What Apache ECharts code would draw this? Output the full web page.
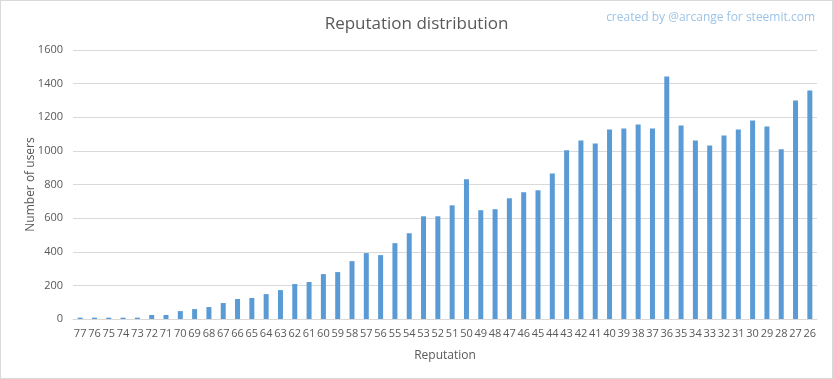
<!DOCTYPE html>
<html>
<head>
<meta charset="utf-8">
<script src="https://cdn.jsdelivr.net/npm/echarts@6/dist/echarts.min.js"></script>
<style>
html,body{margin:0;padding:0;background:#fff;}
#c{width:833px;height:379px;box-sizing:border-box;border:1px solid #D9D9D9;}
</style>
</head>
<body>
<div id="c"></div>
<script>
const categories = ['77','76','75','74','73','72','71','70','69','68','67','66','65','64','63','62','61','60','59','58','57','56','55','54','53','52','51','50','49','48','47','46','45','44','43','42','41','40','39','38','37','36','35','34','33','32','31','30','29','28','27','26'];
const users = [8,8,8,8,8,24,24,47,59,71,95,119,125,148,172,208,220,267,279,344,392,380,451,510,611,611,676,831,647,653,718,754,766,866,1003,1062,1044,1127,1133,1157,1133,1442,1151,1062,1032,1092,1127,1181,1145,1009,1300,1359];
const yTicks = {min:0, max:1600, interval:200};

const chart = echarts.init(document.getElementById('c'), null, {renderer:'canvas'});
const font = '"Open Sans", sans-serif';
chart.setOption({
  animation:false,
  backgroundColor:'#fff',
  title:[{
    text:'Reputation distribution',
    left:'center', top:10,
    textStyle:{fontFamily:font, fontWeight:'normal', fontSize:17, color:'#595959'}
  },{
    text:'created by @arcange for steemit.com',
    right:12, top:6,
    textStyle:{fontFamily:font, fontWeight:'normal', fontSize:12, color:'#9DC3E6'}
  }],
  grid:{left:72, right:15, top:49, bottom:59, containLabel:false},
  xAxis:{
    type:'category', data:categories,
    name:'Reputation', nameLocation:'middle', nameGap:31, nameMoveOverlap:false,
    nameTextStyle:{fontFamily:font, fontSize:12, color:'#595959'},
    axisLine:{lineStyle:{color:'#D9D9D9'}},
    axisTick:{alignWithLabel:false, length:5, lineStyle:{color:'#D9D9D9'}},
    axisLabel:{interval:0, fontFamily:font, fontSize:11, color:'#595959', margin:9}
  },
  yAxis:{
    type:'value', min:yTicks.min, max:yTicks.max, interval:yTicks.interval,
    name:'Number of users', nameLocation:'middle', nameGap:36, nameMoveOverlap:false,
    nameTextStyle:{fontFamily:font, fontSize:12, color:'#595959'},
    axisLine:{show:false}, axisTick:{show:false},
    splitLine:{lineStyle:{color:'#D9D9D9'}},
    axisLabel:{fontFamily:font, fontSize:11, color:'#595959', margin:10, formatter:function(v){return String(v);}}
  },
  series:[{
    type:'bar', data:users, barWidth:5,
    itemStyle:{color:'#5B9BD5'}
  }]
});
</script>
</body>
</html>
